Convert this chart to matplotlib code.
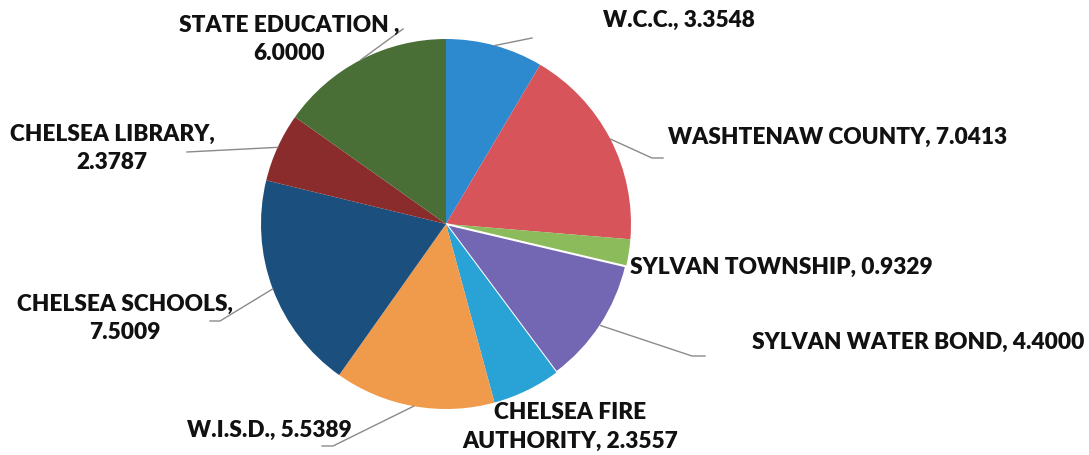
import numpy as np
import matplotlib.pyplot as plt

plt.rcParams['font.family'] = ['Lato', 'DejaVu Sans']

# millage rates by taxing authority
authorities = ['W.C.C.', 'WASHTENAW COUNTY', 'SYLVAN TOWNSHIP', 'SYLVAN WATER BOND',
               'CHELSEA FIRE\nAUTHORITY', 'W.I.S.D.', 'CHELSEA SCHOOLS',
               'CHELSEA LIBRARY', 'STATE EDUCATION ']
millage = [3.3548, 7.0413, 0.9329, 4.4000, 2.3557, 5.5389, 7.5009, 2.3787, 6.0000]
separators = [', ', ', ', ', ', ', ', ', ', ', ', ',\n', ',\n', ',\n']

colors = ['#2e8ace', '#d7545a', '#8bbb5a', '#7367b3', '#29a3d6',
          '#f09b4c', '#1b4f7d', '#8a2c2c', '#4a6f36']

# label placement, in pixels from top-left of the picture
W, H = 1089, 456
label_pos = [(603, 20, 'left'), (668, 137, 'left'), (630, 267, 'left'),
             (752, 342, 'left'), (570, 427, 'center'), (187, 430, 'left'),
             (125, 318, 'center'), (112, 148, 'center'), (289, 39, 'center')]
leader_pts = [[(532, 39)], [(652, 159), (663, 159)], [],
              [(692, 357), (705, 357)], [], [(333, 447), (322, 447)],
              [(220, 322), (210, 322)], [(187, 153)], [(403, 30)]]

fig = plt.figure(figsize=(W / 100, H / 100), dpi=100)
ax = fig.add_axes([0, 0, 1, 1])

wedges, _ = ax.pie(millage, colors=colors, startangle=90, counterclock=False,
                   center=(446, H - 225), radius=185,
                   wedgeprops=dict(linewidth=0))
wedges[3].set_edgecolor('white')
wedges[3].set_linewidth(1.5)

ax.set_xlim(0, W)
ax.set_ylim(0, H)
ax.set_aspect('equal')
ax.axis('off')

for i, w in enumerate(wedges):
    ang = np.deg2rad((w.theta1 + w.theta2) / 2)
    x0 = w.center[0] + w.r * np.cos(ang)
    y0 = w.center[1] + w.r * np.sin(ang)
    if leader_pts[i]:
        xs = [x0] + [p[0] for p in leader_pts[i]]
        ys = [y0] + [H - p[1] for p in leader_pts[i]]
        ax.plot(xs, ys, color='#8a8a8a', lw=1.0, zorder=3)

    x, y, ha = label_pos[i]
    txt = authorities[i] + separators[i] + f'{millage[i]:.4f}'
    ax.text(x, H - y, txt, ha=ha, va='center', multialignment='center',
            fontsize=16.3, fontweight='heavy', color='#111111', linespacing=1.42)

fig.savefig('out.png', dpi=100)
